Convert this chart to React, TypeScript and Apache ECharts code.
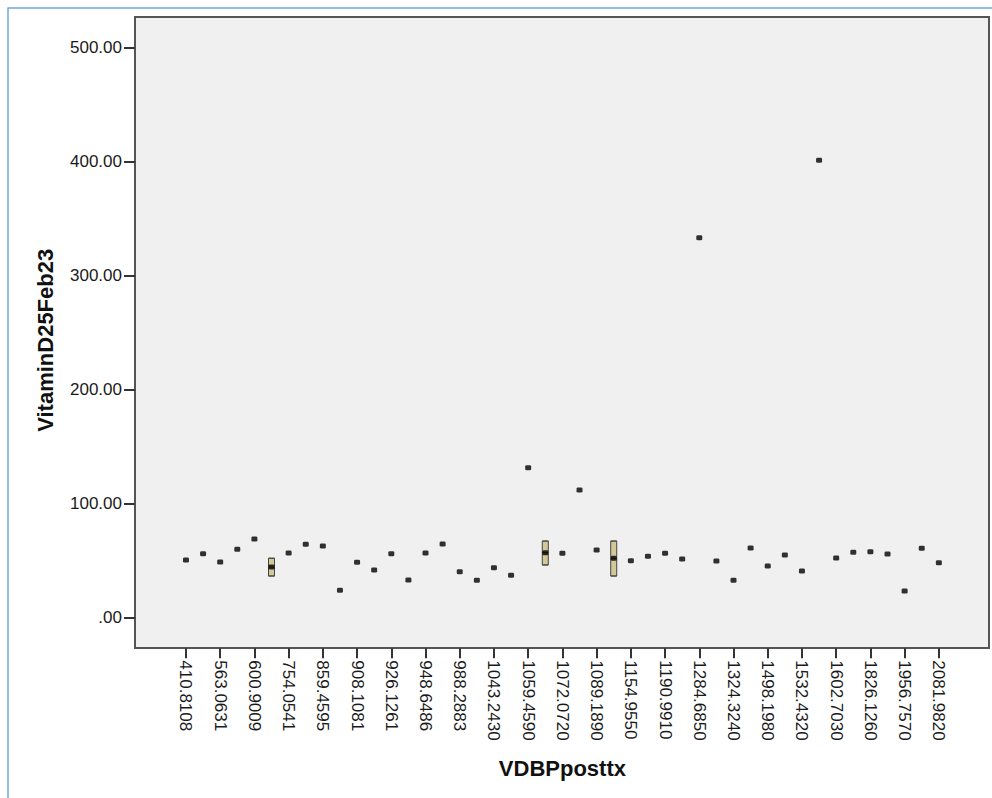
import React, { useEffect, useRef } from "react";
import * as echarts from "echarts";

// Tick labels visible on the x axis (every other category is labelled in the reference)
const xLabels = [
  "410.8108", "563.0631", "600.9009", "754.0541", "859.4595", "908.1081",
  "926.1261", "948.6486", "988.2883", "1043.2430", "1059.4590", "1072.0720",
  "1089.1890", "1154.9550", "1190.9910", "1284.6850", "1324.3240", "1498.1980",
  "1532.4320", "1602.7030", "1826.1260", "1956.7570", "2081.9820",
];

// 45 categories: the labelled ones at even positions, unlabelled ones in between
const categories: string[] = [];
xLabels.forEach((l, i) => {
  categories.push(l);
  if (i < xLabels.length - 1) categories.push(`unlabelled-${i + 1}`);
});

// Single observation (or median for the boxed categories), one per category
const centerValues = [
  50.3, 55.8, 48.5, 59.6, 68.7, 44.1, 56.4, 64.0, 62.5, 23.7,
  48.2, 41.5, 55.8, 32.7, 56.4, 64.3, 40.0, 32.5, 43.5, 36.8,
  131.2, 56.7, 56.1, 111.7, 59.0, 51.8, 49.6, 53.5, 56.1, 51.1,
  333.0, 49.4, 32.5, 60.8, 45.0, 54.6, 40.6, 400.9, 52.0, 57.0,
  57.5, 55.5, 23.1, 60.5, 47.9,
];

// Categories that have a box (more than one observation)
const boxIndex = [5, 21, 25];
const boxLow = [36.2, 45.9, 36.2];
const boxHigh = [51.8, 66.9, 66.9];

const yTickValues = [0, 100, 200, 300, 400, 500];
// value range covered by the full plot frame (it extends beyond the labelled ticks)
const frameMin = -27.2;
const frameMax = 526.6;

export default function App() {
  const ref = useRef<HTMLDivElement>(null);
  useEffect(() => {
    if (!ref.current) return;
    const chart = echarts.init(ref.current, null, { renderer: "svg" });
    const font = "'Liberation Sans', Arial, sans-serif";
    const boxData = boxIndex.map((ci, k) => [
      ci, boxLow[k], boxLow[k], centerValues[ci], boxHigh[k], boxHigh[k],
    ]);
    const scatterData = centerValues.map((v, i) => [i, v]);
    chart.setOption({
      animation: false,
      backgroundColor: "#ffffff",
      textStyle: { fontFamily: font },
      graphic: [
        {
          type: "rect",
          silent: true,
          z: -10,
          shape: { x: 135, y: 17, width: 854, height: 631 },
          style: { fill: "#f0f0f0", stroke: "#555555", lineWidth: 2 },
        },
        {
          type: "polyline",
          silent: true,
          shape: { points: [[8, 798], [8, 8], [992, 8]] },
          style: { stroke: "#74a7dd", lineWidth: 1.5, fill: null },
        },
      ],
      grid: [
        { left: 135, right: 3, top: 47.3, bottom: 180.7 },
        { left: 177.4, width: 770, top: 17, bottom: 149.7 },
      ],
      xAxis: [
        { gridIndex: 0, type: "value", show: false },
        {
          gridIndex: 1,
          type: "category",
          data: categories,
          axisLine: { show: false, onZero: false },
          axisTick: {
            show: true,
            alignWithLabel: true,
            interval: 1,
            length: 10,
            lineStyle: { color: "#333333", width: 2 },
          },
          axisLabel: {
            interval: 1,
            rotate: -90,
            fontSize: 17,
            margin: 12,
            color: "#1a1a1a",
            fontFamily: font,
          },
          name: "VDBPposttx",
          nameLocation: "middle",
          nameGap: 109,
          nameTextStyle: {
            fontSize: 22,
            fontWeight: "bold",
            color: "#111111",
            fontFamily: font,
          },
        },
      ],
      yAxis: [
        {
          gridIndex: 0,
          type: "value",
          min: yTickValues[0],
          max: yTickValues[yTickValues.length - 1],
          interval: 100,
          axisLine: { show: false, onZero: false },
          splitLine: { show: false },
          axisTick: {
            show: true,
            length: 11,
            lineStyle: { color: "#333333", width: 2 },
          },
          axisLabel: {
            fontSize: 17,
            margin: 13,
            color: "#1a1a1a",
            fontFamily: font,
            formatter: (v: number) => (v === 0 ? ".00" : v.toFixed(2)),
          },
          name: "VitaminD25Feb23",
          nameLocation: "middle",
          nameRotate: 90,
          nameGap: 79,
          nameTextStyle: {
            fontSize: 22,
            fontWeight: "bold",
            color: "#111111",
            fontFamily: font,
            padding: [0, 16, 0, 0],
          },
        },
        {
          gridIndex: 1,
          type: "value",
          min: frameMin,
          max: frameMax,
          show: false,
        },
      ],
      series: [
        {
          type: "boxplot",
          xAxisIndex: 1,
          yAxisIndex: 1,
          boxWidth: [6, 6],
          encode: { x: 0, y: [1, 2, 3, 4, 5] },
          data: boxData,
          itemStyle: { color: "#d2c996", borderColor: "#444444", borderWidth: 1 },
          z: 3,
        },
        {
          type: "scatter",
          xAxisIndex: 1,
          yAxisIndex: 1,
          symbol: "roundRect",
          symbolSize: [6, 5],
          itemStyle: { color: "#000000" },
          data: scatterData,
          z: 5,
        },
      ],
    });
    return () => chart.dispose();
  }, []);
  return (
    <div
      ref={ref}
      style={{ position: "absolute", left: 0, top: 0, width: 992, height: 798 }}
    />
  );
}
